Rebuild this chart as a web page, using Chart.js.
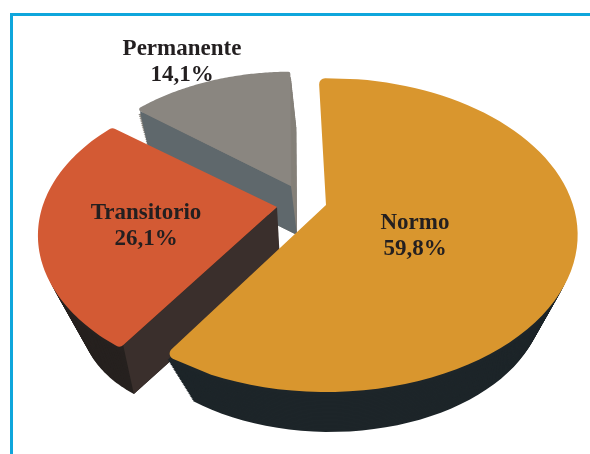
<!DOCTYPE html>
<html lang="es">
<head>
  <meta charset="UTF-8">
  <title>Normo, Transitorio, Permanente</title>
  <script src="https://cdn.jsdelivr.net/npm/chart.js"></script>
  <style>
    html, body { margin: 0; padding: 0; background: #fff; overflow: hidden; }
    #wrap { position: relative; width: 590px; height: 454px; }
    #frame {
      position: absolute; left: 10px; top: 13px; right: 0; bottom: 0;
      border-left: 3px solid #0fa6dc; border-top: 3px solid #0fa6dc;
    }
  </style>
</head>
<body>
  <div id="wrap">
    <div id="frame"></div>
    <canvas id="pie" width="590" height="454"></canvas>
  </div>

  <script>
    const categories = ['Normo', 'Transitorio', 'Permanente'];
    const percentages = [59.8, 26.1, 14.1];

    // Look of each slice, same order as categories
    const topColors = ['#d9962e', '#d35a34', '#8a8680'];
    const wallColors = ['#1d2529', '#26211f', '#85807a'];
    const cutColors = [null, '#3a2f2c', '#5f686c']; // Normo's cut face is out of sight
    const labelSpots = [[415, 223], [146, 213], [182, 49]];

    // Where each slice sits once pulled out of the pie, and how its base is shrunk
    const explode = [
      { dx: 0, dy: 0, size: 1, turn: -1, corner: 6, baseDx: 4, baseDy: 68, baseSize: 0.85, cutDx: 4, cutDy: 68 },
      { dx: -49, dy: 2, size: 0.95, turn: 0, corner: 6, baseDx: -93, baseDy: 100, baseSize: 0.6, cutDx: -46, cutDy: 57 },
      { dx: -35, dy: -19, size: 0.9, turn: 0.8, corner: 2, baseDx: -29, baseDy: 30, baseSize: 0.85, cutDx: -29, cutDy: 30 }
    ];

    // Tilted disc: a homography, so the hub sits above the middle of the ellipse
    const TILT = 0.191;
    const WIDE = 1.205;
    const FLAT = 0.738;

    function project(arc, angle, hx, hy, size) {
      const u = Math.cos(angle), v = Math.sin(angle);
      const w = 1 - TILT * v;
      const r = arc.outerRadius * size;
      return [hx + r * WIDE * u / w, hy + r * FLAT * v / w];
    }

    function rimPoints(arc, turn, hx, hy, size) {
      const steps = 80;
      const pts = [];
      const shift = turn * Math.PI / 180;
      for (let i = 0; i <= steps; i++) {
        const a = arc.startAngle + shift + (arc.endAngle - arc.startAngle) * i / steps;
        pts.push(project(arc, a, hx, hy, size));
      }
      return pts;
    }

    function slicePath(ctx, arc, turn, hx, hy, size) {
      const pts = rimPoints(arc, turn, hx, hy, size);
      ctx.beginPath();
      ctx.moveTo(hx, hy);
      pts.forEach(p => ctx.lineTo(p[0], p[1]));
      ctx.closePath();
    }

    // Top face, with the two rim corners rounded off
    function roundedPath(ctx, arc, turn, hx, hy, size, corner) {
      const pts = rimPoints(arc, turn, hx, hy, size);
      const last = pts.length - 1;
      ctx.beginPath();
      ctx.moveTo(hx, hy);
      ctx.arcTo(pts[0][0], pts[0][1], pts[4][0], pts[4][1], corner);
      for (let i = 4; i <= last - 4; i++) ctx.lineTo(pts[i][0], pts[i][1]);
      ctx.arcTo(pts[last][0], pts[last][1], hx, hy, corner);
      ctx.closePath();
    }

    const tiltedPie = {
      id: 'tiltedPie',
      beforeDatasetDraw(chart) {
        const ctx = chart.ctx;
        const arcs = chart.getDatasetMeta(0).data;
        ctx.save();

        // back slice first so Normo ends up on top
        for (let i = arcs.length - 1; i >= 0; i--) {
          const arc = arcs[i];
          const e = explode[i];
          const hx = arc.x + e.dx, hy = arc.y + e.dy;
          const bx = arc.x + e.baseDx, by = arc.y + e.baseDy;
          const cx = arc.x + e.cutDx, cy = arc.y + e.cutDy;

          // outer wall, swept from the base up to just under the top face
          ctx.save();
          if (!cutColors[i]) {
            // no wall behind the hub, it would peek out along the straight edge
            ctx.beginPath();
            ctx.rect(0, hy, chart.width, chart.height - hy);
            ctx.clip();
          }
          ctx.filter = 'blur(0.7px)';
          ctx.fillStyle = wallColors[i];
          for (let t = 0; t <= 27; t++) {
            const k = t / 30;
            slicePath(ctx, arc, e.turn,
              bx + (hx - bx) * k, by + (hy - by) * k,
              e.baseSize + (e.size - e.baseSize) * k);
            ctx.fill();
          }

          // the cut face running back to the hub
          if (cutColors[i]) {
            const cutAngle = arc.startAngle + e.turn * Math.PI / 180;
            const p1 = project(arc, cutAngle, hx, hy, e.size * 0.98);
            const p2 = project(arc, cutAngle, bx, by, e.baseSize);
            ctx.fillStyle = cutColors[i];
            ctx.beginPath();
            ctx.moveTo(hx, hy);
            ctx.lineTo(p1[0], p1[1]);
            ctx.lineTo(p2[0], p2[1]);
            ctx.lineTo(cx, cy);
            ctx.closePath();
            ctx.fill();
          }
          ctx.restore();

          // top face
          roundedPath(ctx, arc, e.turn, hx, hy, e.size, e.corner);
          ctx.fillStyle = topColors[i];
          ctx.fill();
        }
        ctx.restore();
        return false;
      },
      afterDraw(chart) {
        const ctx = chart.ctx;
        ctx.save();
        ctx.fillStyle = '#231f20';
        ctx.font = 'bold 23px "Liberation Serif", serif';
        ctx.textAlign = 'center';
        ctx.textBaseline = 'middle';
        categories.forEach((name, i) => {
          const value = percentages[i].toFixed(1).replace('.', ',') + '%';
          ctx.fillText(name, labelSpots[i][0], labelSpots[i][1]);
          ctx.fillText(value, labelSpots[i][0], labelSpots[i][1] + 26);
        });
        ctx.restore();
      }
    };

    new Chart(document.getElementById('pie'), {
      type: 'pie',
      data: {
        labels: categories,
        datasets: [{ data: percentages, backgroundColor: topColors, borderWidth: 0 }]
      },
      options: {
        responsive: false,
        animation: false,
        rotation: -1,
        layout: { padding: { left: 62, bottom: 44 } },
        plugins: { legend: { display: false }, tooltip: { enabled: false } }
      },
      plugins: [tiltedPie]
    });
  </script>
</body>
</html>
